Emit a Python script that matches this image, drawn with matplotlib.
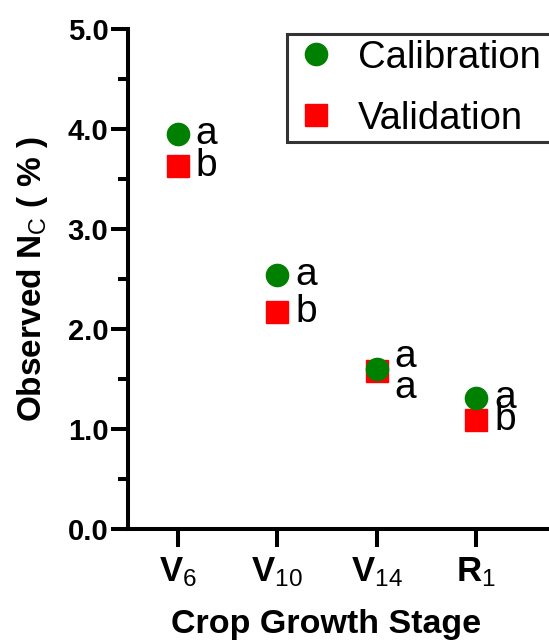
import matplotlib
matplotlib.use("Agg")
import matplotlib.pyplot as plt
from matplotlib.ticker import MultipleLocator, FormatStrFormatter

plt.rcParams['font.family'] = ['Liberation Sans', 'DejaVu Sans']
plt.rcParams['mathtext.fontset'] = 'custom'
plt.rcParams['mathtext.rm'] = 'Liberation Sans'
plt.rcParams['mathtext.bf'] = 'Liberation Sans:bold'
plt.rcParams['mathtext.it'] = 'Liberation Sans:italic'

stages = [r'$\mathbf{V}_{6}$', r'$\mathbf{V}_{10}$', r'$\mathbf{V}_{14}$', r'$\mathbf{R}_{1}$']
calibration = [3.95, 2.54, 1.60, 1.31]
validation = [3.63, 2.17, 1.58, 1.09]
cal_letters = ['a', 'a', 'a', 'a']
val_letters = ['b', 'b', 'a', 'b']
# vertical nudge of the letters (points), so overlapping ones stay readable
cal_nudge = [0, 0, 9, 0]
val_nudge = [0, 0, -12, 0]

fig = plt.figure(figsize=(5.49, 6.41), dpi=100)
ax = fig.add_axes([0.233, 0.1747, 0.767, 0.780])

x = list(range(1, len(stages) + 1))
ax.plot(x, validation, linestyle='none', marker='s', markersize=15.5,
        color='#ff0000', label='Validation', zorder=3)
ax.plot(x, calibration, linestyle='none', marker='o', markersize=16,
        color='#008000', label='Calibration', zorder=4)

for i in range(len(x)):
    ax.annotate(cal_letters[i], (x[i], calibration[i]), xytext=(13, cal_nudge[i]),
                textcoords='offset points', fontsize=28, va='center', ha='left')
    ax.annotate(val_letters[i], (x[i], validation[i]), xytext=(13, val_nudge[i]),
                textcoords='offset points', fontsize=28, va='center', ha='left')

ax.set_xlim(0.5, 4.73)
ax.set_ylim(0, 5.0)
ax.set_xticks(x)
ax.set_xticklabels(stages, fontsize=25)
ax.yaxis.set_major_locator(MultipleLocator(1.0))
ax.yaxis.set_minor_locator(MultipleLocator(0.5))
ax.yaxis.set_major_formatter(FormatStrFormatter('%.1f'))
for lab in ax.get_yticklabels():
    lab.set_fontweight('bold')
    lab.set_fontsize(21)

ax.spines['top'].set_visible(False)
ax.spines['right'].set_visible(False)
ax.spines['left'].set_linewidth(2.9)
ax.spines['bottom'].set_linewidth(2.9)
ax.tick_params(axis='y', which='major', length=12, width=2.9, pad=2)
ax.tick_params(axis='y', which='minor', length=7, width=2.9)
ax.tick_params(axis='x', which='major', length=13, width=2.9, pad=6)

ax.set_xlabel('Crop Growth Stage', fontsize=24.5, fontweight='bold')
ax.xaxis.set_label_coords(0.47, -0.16)
ax.set_ylabel(r'Observed N$_{\mathrm{C}}$ ( % )', fontsize=24, fontweight='bold', labelpad=13)

handles, labels = ax.get_legend_handles_labels()
leg = fig.legend(handles[::-1], labels[::-1], loc='upper left', mode='expand',
                 bbox_to_anchor=(287 / 549, 1 - 34 / 641, 0.6, 0), fontsize=27.5,
                 frameon=True, fancybox=False, borderpad=0.15, borderaxespad=0,
                 handlelength=1.2, handletextpad=0.5, labelspacing=0.65)
leg.get_frame().set_edgecolor('black')
leg.get_frame().set_linewidth(2.2)

fig.savefig('out.png', dpi=100)
